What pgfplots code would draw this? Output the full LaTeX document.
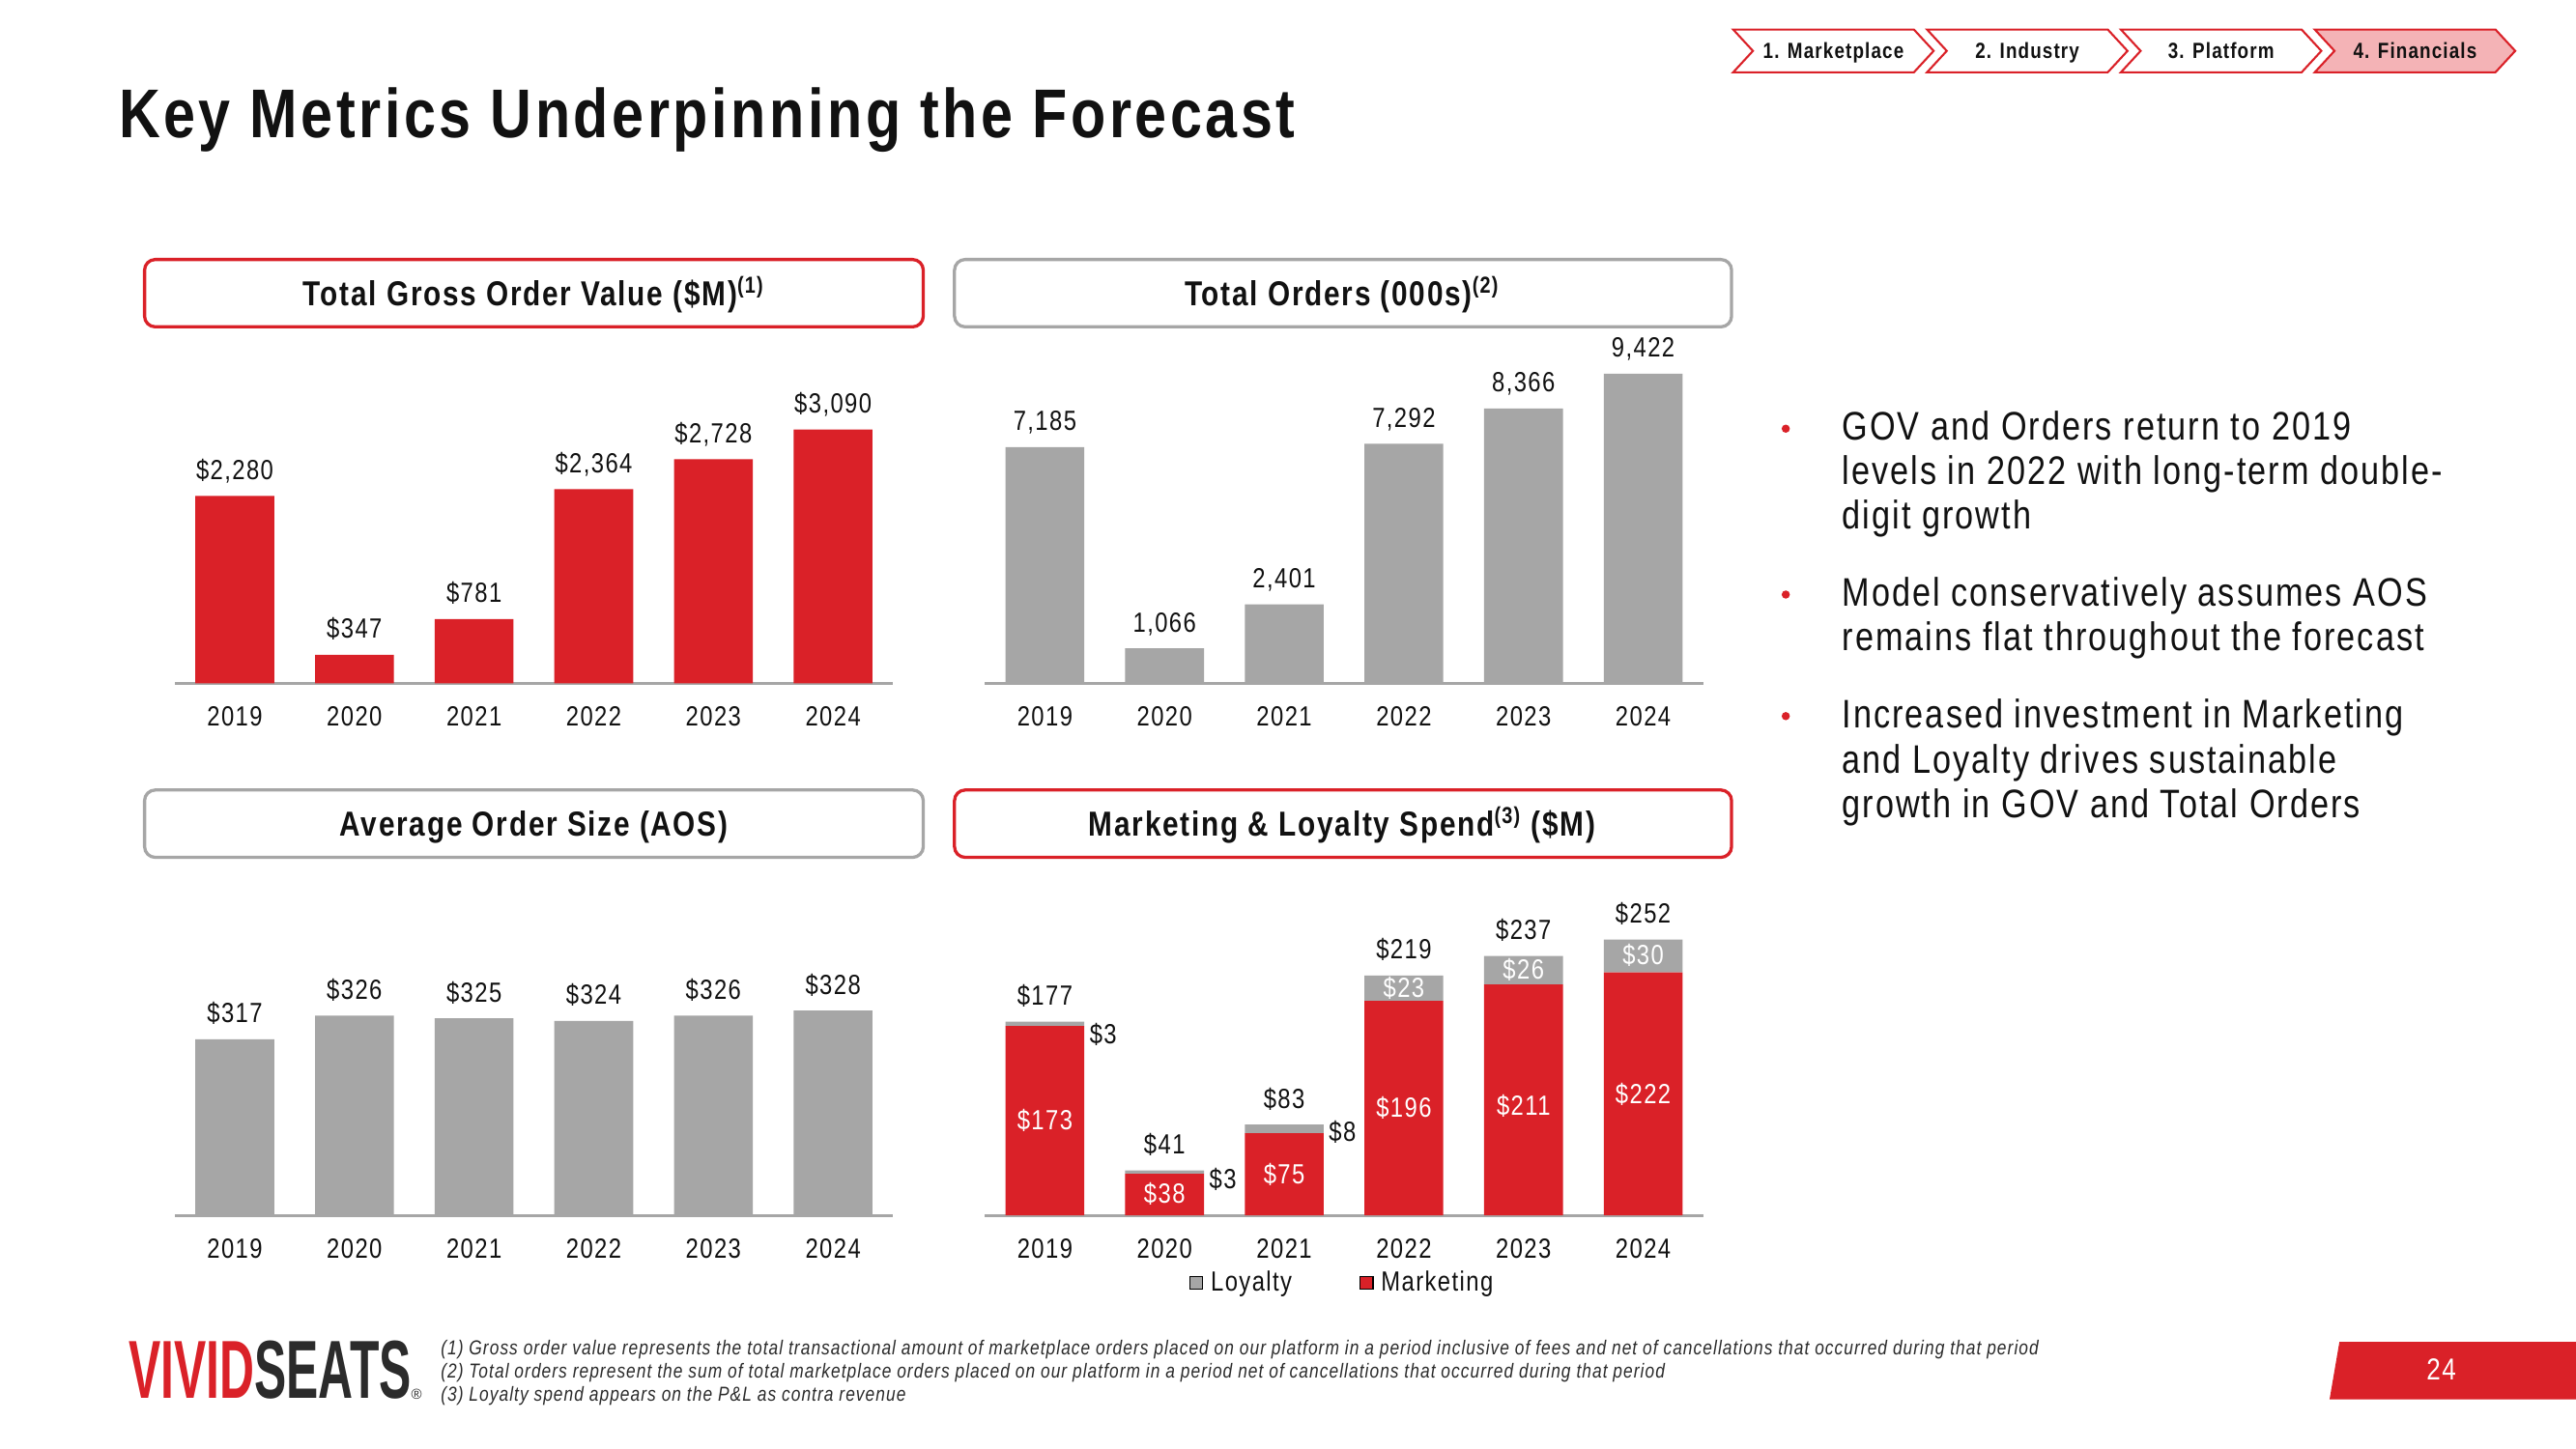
\documentclass[border=0pt]{standalone}
\usepackage{fontspec}
\setmainfont{Liberation Sans}[FakeStretch=0.83, LetterSpace=5]
\newfontfamily\logofont{Liberation Sans}
\usepackage{pgfplots}
\pgfplotsset{compat=1.18}
\usepackage{pgfplotstable}
\definecolor{vsred}{HTML}{DA2128}
\definecolor{vsgray}{HTML}{A6A6A6}
\definecolor{axgray}{HTML}{A6A6A6}
\definecolor{vspink}{HTML}{F4B3B6}
\definecolor{txt}{HTML}{111111}
\definecolor{logogray}{HTML}{2B2B2B}

\pgfplotstableread{
x v
0 2280
1 347
2 781
3 2364
4 2728
5 3090
}\gov
\pgfplotstableread{
x v
0 7185
1 1066
2 2401
3 7292
4 8366
5 9422
}\orders
\pgfplotstableread{
x v
0 317
1 326
2 325
3 324
4 326
5 328
}\aos
\pgfplotstableread{
x mkt loy tot
0 173 4 177
1 38 3 41
2 75 8 83
3 196 23 219
4 211 26 237
5 222 30 252
}\mkt

\newcommand\lblfont{\fontsize{9.6}{11.5}\selectfont}

\pgfplotsset{
  vsbar/.style={
    width=87.4mm, height=40mm, scale only axis,
    xmin=-0.5, xmax=5.5, ymin=0,
    axis x line=bottom, axis y line=none,
    axis line style={-, draw=axgray, line width=0.9pt},
    xtick={0,...,5}, xticklabels={2019,2020,2021,2022,2023,2024},
    major tick length=0pt,
    xticklabel style={font=\lblfont, anchor=base, yshift=-5.2mm, text=txt},
    ytick=\empty,
    ybar, bar width=9.6mm,
    /pgf/number format/assume math mode=true,
    /pgf/number format/fixed,
    /pgf/number format/precision=0,
    /pgf/number format/1000 sep={,},
    every node near coord/.append style={font=\lblfont, anchor=base, yshift=2mm, text=txt},
    clip=false,
  },
}
\tikzset{wl/.style={font=\lblfont, inner sep=0, text=white},
         bl/.style={font=\lblfont, inner sep=0, text=txt, anchor=west}}

\begin{document}
\begin{tikzpicture}
\fill[white] (0,0) rectangle (313.6mm,-176.4mm);
\path[use as bounding box] (0,0) rectangle (313.6mm,-176.4mm);
\begin{scope}[x=0.2mm,y=-0.2mm]
  % title
  \node[anchor=base west, inner sep=0, text=txt, font=\fontsize{23.9}{28}\selectfont\bfseries] at (72,84) {Key Metrics Underpinning the Forecast};
  % breadcrumbs
  \foreach \xo/\lab/\fc in {1055/{1. Marketplace}/white, 1173/{2. Industry}/white, 1291/{3. Platform}/white, 1409/{4. Financials}/vspink}{
    \draw[vsred, line width=0.7pt, fill=\fc] (\xo,18) -- ({\xo+110},18) -- ({\xo+122},31) -- ({\xo+110},44) -- (\xo,44) -- ({\xo+12},31) -- cycle;
    \node[anchor=base, inner sep=0, text=txt, font=\fontsize{7.6}{9}\selectfont\bfseries] at ({\xo+61},35.5) {\lab};
  }
  % header boxes
  \draw[vsred, line width=1.1pt, rounded corners=1.3mm] (88,158) rectangle (562,199);
  \draw[vsgray, line width=1.1pt, rounded corners=1.3mm] (581,158) rectangle (1054,199);
  \draw[vsgray, line width=1.1pt, rounded corners=1.3mm] (88,481) rectangle (562,522);
  \draw[vsred, line width=1.1pt, rounded corners=1.3mm] (581,481) rectangle (1054,522);
  \begin{scope}[every node/.style={anchor=base, inner sep=0, text=txt, font=\fontsize{12}{14}\selectfont\bfseries}]
    \node at (325,186) {Total Gross Order Value (\$M)\textsuperscript{(1)}};
    \node at (817,186) {Total Orders (000s)\textsuperscript{(2)}};
    \node at (325,509) {Average Order Size (AOS)};
    \node at (817,509) {Marketing \& Loyalty Spend\textsuperscript{(3)} (\$M)};
  \end{scope}
  % bullets
  \foreach \yy in {261,362,436} {\fill[vsred] (1087,\yy) circle (0.5mm);}
  \foreach \yy/\tx in {268/{GOV and Orders return to 2019},
                       295/{levels in 2022 with long-term double-},
                       322/{digit growth},
                       369/{Model conservatively assumes AOS},
                       396/{remains flat throughout the forecast},
                       443/{Increased investment in Marketing},
                       471/{and Loyalty drives sustainable},
                       498/{growth in GOV and Total Orders}}{
    \node[anchor=base west, inner sep=0, text=txt, font=\fontsize{13.8}{16}\selectfont] at (1121,\yy) {\tx};
  }
  % footnotes
  \begin{scope}[every node/.style={anchor=base west, inner sep=0, text=logogray, font=\fontsize{7}{8}\selectfont\itshape}]
    \node at (268,825) {(1) Gross order value represents the total transactional amount of marketplace orders placed on our platform in a period inclusive of fees and net of cancellations that occurred during that period};
    \node at (268,839) {(2) Total orders represent the sum of total marketplace orders placed on our platform in a period net of cancellations that occurred during that period};
    \node at (268,853) {(3) Loyalty spend appears on the P\&L as contra revenue};
  \end{scope}
  % logo
  \node[anchor=south west, inner sep=0] at (78,852) {\resizebox{34.4mm}{7mm}{\logofont\bfseries\textcolor{vsred}{VIVID}\textcolor{logogray}{SEATS}}};
  \node[anchor=base west, inner sep=0, text=logogray, font=\logofont\fontsize{5}{6}\selectfont] at (250,852) {®};
  % page number
  \fill[vsred] (1424,817) -- (1568,817) -- (1568,852) -- (1418,852) -- cycle;
  \node[anchor=base, inner sep=0, text=white, font=\fontsize{10.5}{12}\selectfont] at (1486,840) {24};
\end{scope}

% GOV
\begin{axis}[vsbar, at={(21.3mm,-83.2mm)}, anchor=south west, ymax=4000]
  \addplot[fill=vsred, draw=none, point meta=y, nodes near coords={\$\pgfmathprintnumber{\pgfplotspointmeta}}] table[x=x,y=v]{\gov};
\end{axis}
% Orders
\begin{axis}[vsbar, at={(119.92mm,-83.2mm)}, anchor=south west, ymax=10000]
  \addplot[fill=vsgray, draw=none, point meta=y, nodes near coords={\pgfmathprintnumber{\pgfplotspointmeta}}] table[x=x,y=v]{\orders};
\end{axis}
% AOS
\begin{axis}[vsbar, at={(21.3mm,-148mm)}, anchor=south west, ymin=250, ymax=375, clip=true]
  \addplot[fill=vsgray, draw=none, point meta=y, nodes near coords={\$\pgfmathprintnumber{\pgfplotspointmeta}}] table[x=x,y=v]{\aos};
\end{axis}
% Marketing & Loyalty
\begin{axis}[vsbar, at={(119.92mm,-148mm)}, anchor=south west, ymax=300, ybar stacked,
  bar shift=0pt,
  legend style={at={(0.5,-0.205)}, anchor=center, draw=none, fill=none, font=\lblfont, text=txt,
    legend columns=2, /tikz/every even column/.append style={column sep=7.5mm},
    /tikz/every odd column/.append style={column sep=0.2mm}},
  ]
  \addplot[fill=vsred, draw=none, forget plot, bar shift=0pt] table[x=x,y=mkt]{\mkt};
  \addplot[fill=vsgray, draw=none, forget plot, bar shift=0pt] table[x=x,y=loy]{\mkt};
  \addlegendimage{legend image code/.code={\path[fill=vsgray] (0mm,-0.8mm) rectangle (1.6mm,0.8mm);}}
  \addlegendentry{Loyalty}
  \addlegendimage{legend image code/.code={\path[fill=vsred] (0mm,-0.8mm) rectangle (1.6mm,0.8mm);}}
  \addlegendentry{Marketing}
\end{axis}
% overlay for labels
\begin{axis}[width=87.4mm, height=40mm, scale only axis, at={(119.92mm,-148mm)}, anchor=south west,
  xmin=-0.5, xmax=5.5, ymin=0, ymax=300, hide axis, clip=false,
  /pgf/number format/assume math mode=true,
  /pgf/number format/fixed,
  /pgf/number format/precision=0]
  \addplot[draw=none, mark=none, point meta=explicit,
    nodes near coords={\$\pgfmathprintnumber{\pgfplotspointmeta}},
    every node near coord/.append style={font=\lblfont, anchor=base, yshift=2mm, text=txt}]
    table[x=x,y=tot,meta=tot]{\mkt};
  \node[wl] at (axis cs:0,87) {\$173};
  \node[wl] at (axis cs:1,19.5) {\$38};
  \node[wl] at (axis cs:2,37.5) {\$75};
  \node[wl] at (axis cs:3,98) {\$196};
  \node[wl] at (axis cs:4,100) {\$211};
  \node[wl] at (axis cs:5,111) {\$222};
  \node[wl] at (axis cs:3,208) {\$23};
  \node[wl] at (axis cs:4,224) {\$26};
  \node[wl] at (axis cs:5,238) {\$30};
  \node[bl] at (axis cs:0.37,165) {\$3};
  \node[bl] at (axis cs:1.37,33) {\$3};
  \node[bl] at (axis cs:2.37,76.5) {\$8};
\end{axis}
\end{tikzpicture}
\end{document}
